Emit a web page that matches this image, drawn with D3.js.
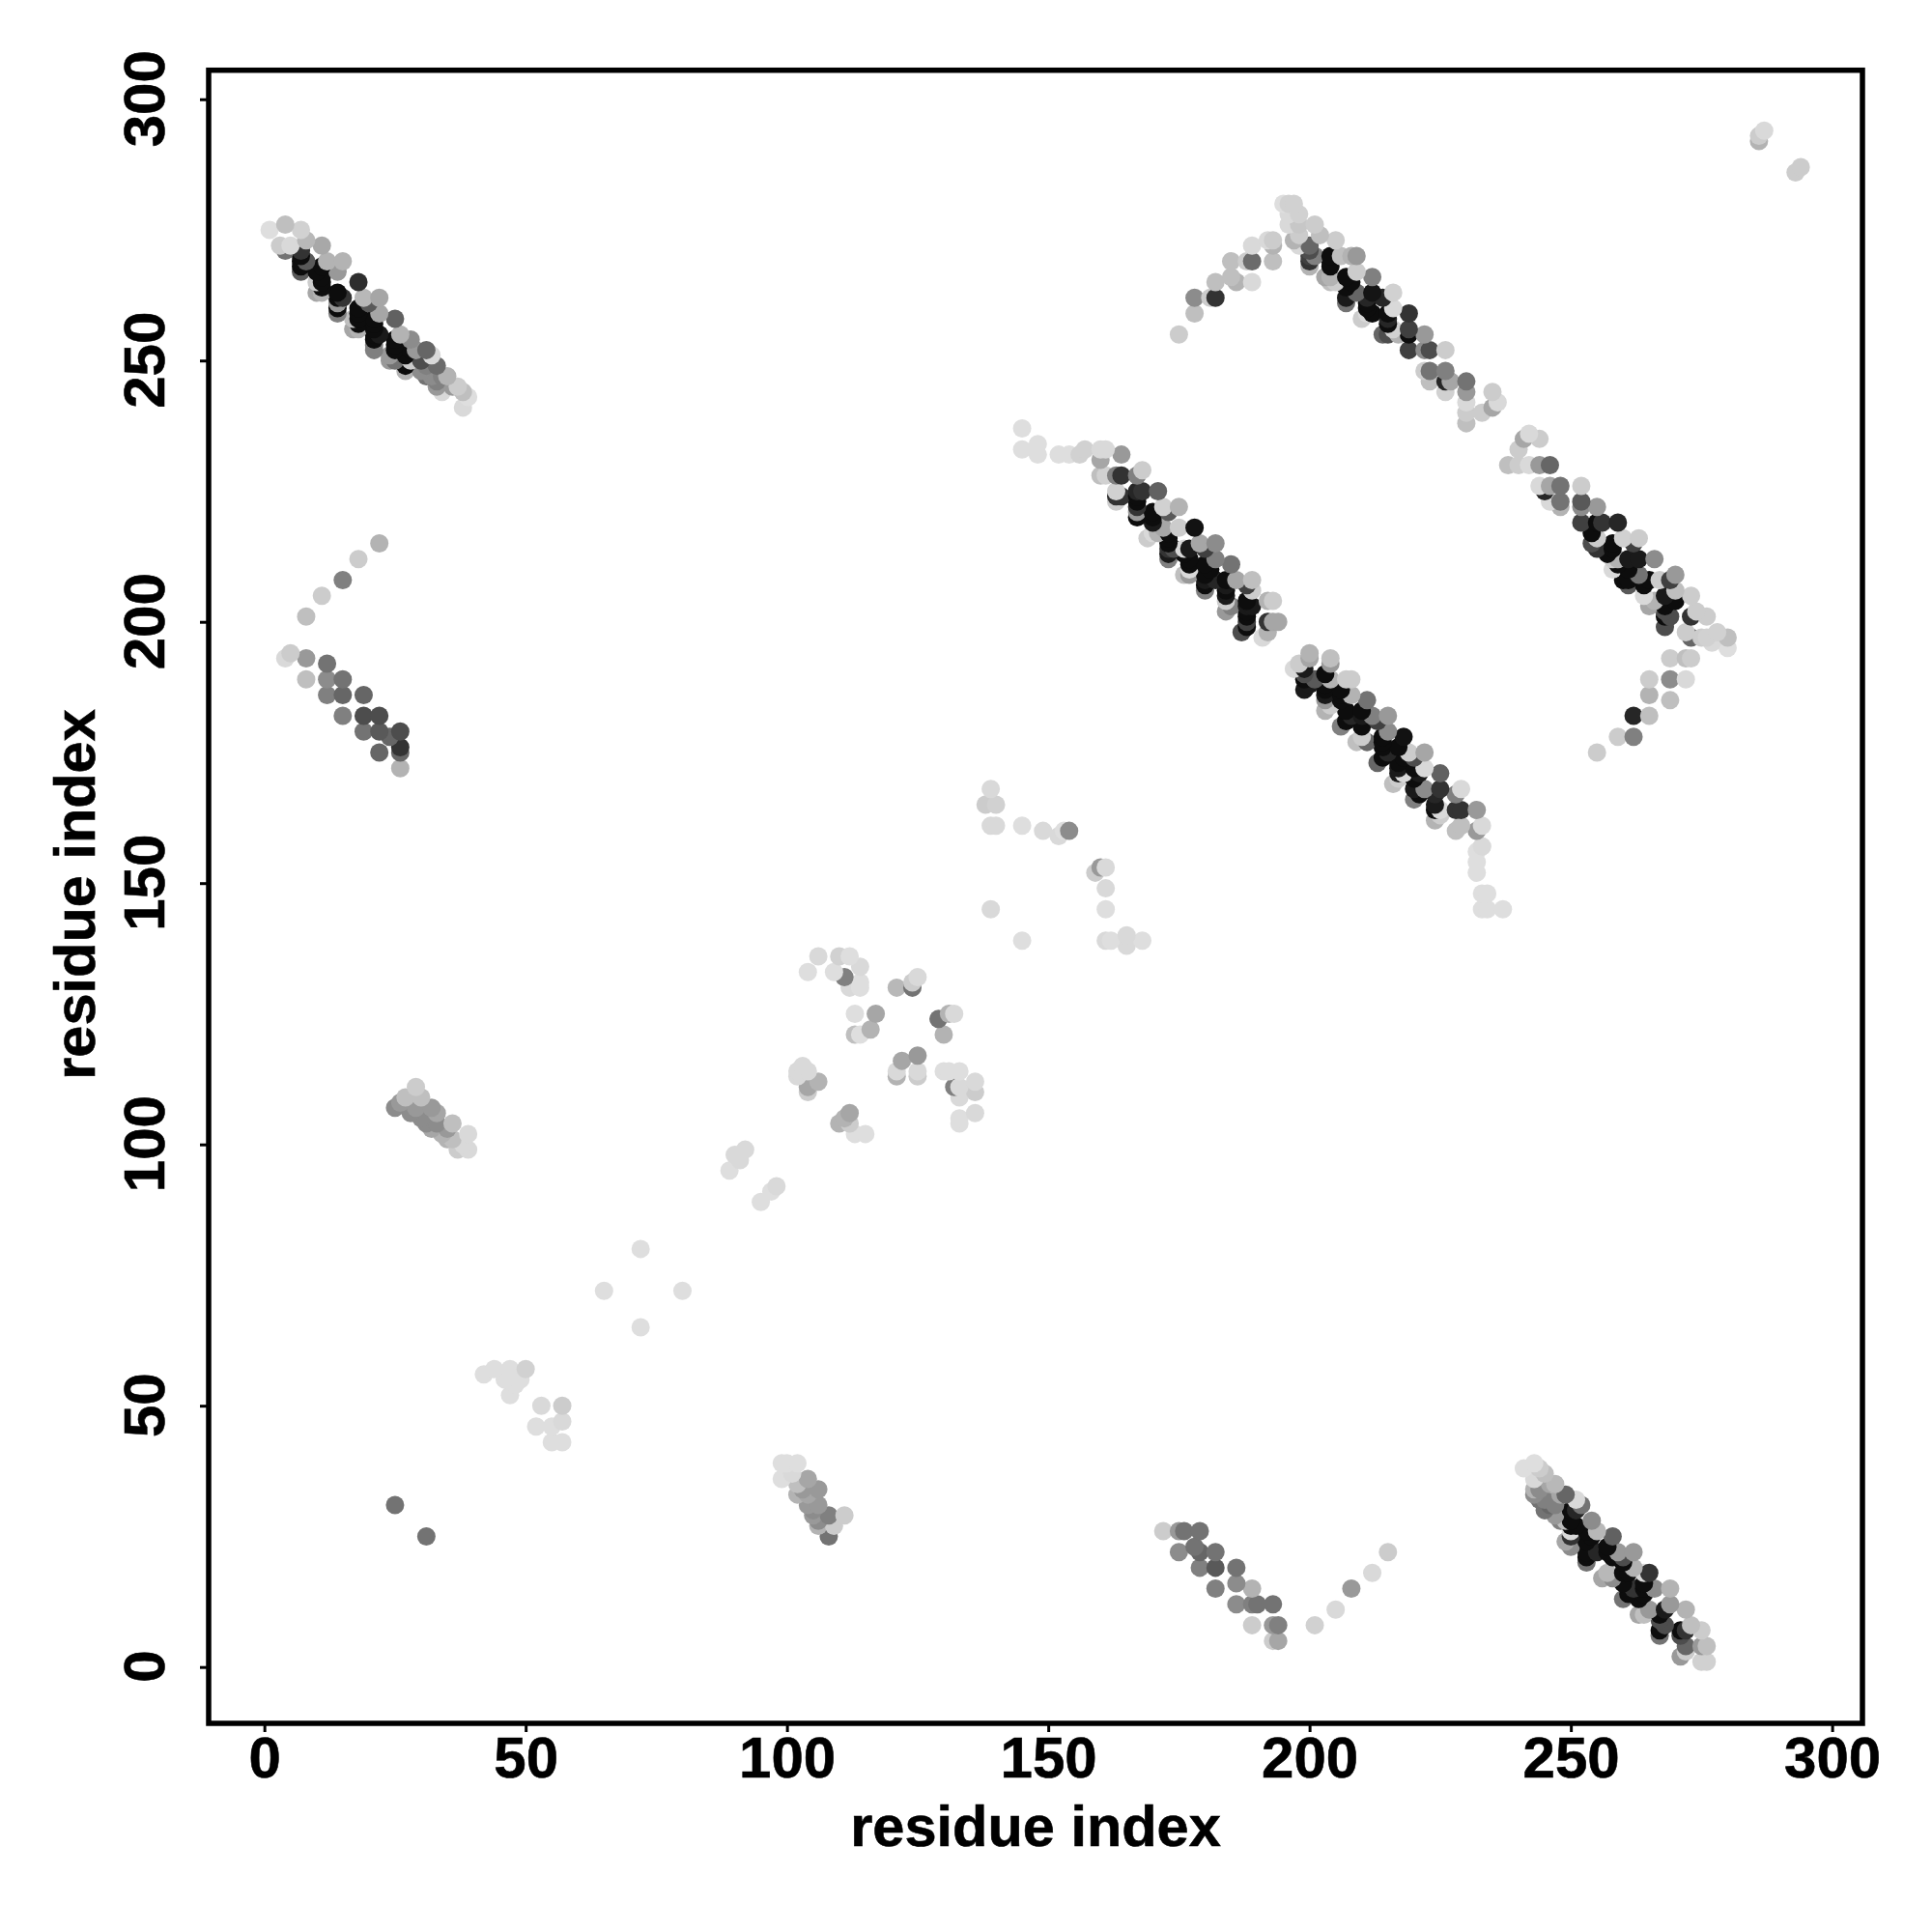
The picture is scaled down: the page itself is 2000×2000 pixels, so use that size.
<!DOCTYPE html>
<html><head><meta charset="utf-8">
<script src="https://cdn.jsdelivr.net/npm/d3@7"></script>
<style>html,body{margin:0;padding:0;background:#fff}svg{display:block}text{font-family:"Liberation Sans",Arial,sans-serif;font-weight:700;fill:#000;stroke:#000;stroke-width:.6px}</style>
</head><body><svg id="c" width="2000" height="2000"></svg>
<script>
// each contact: [residue i, residue j, gray level in percent]
const stripA=[[1,275,87],[4,276,75],[7,275,82],[3,272,80],[4,271,45],[5,272,85],[8,273,72],[11,272,66],[7,271,20],[8,269,35],[7,268,5],[7,267,35],[12,269,70],[15,269,70],[11,268,5],[14,267,60],[10,265,80],[11,264,5],[11,263,70],[18,265,18],[19,262,72],[14,263,5],[15,262,20],[14,260,5],[14,261,60],[22,262,65],[20,261,35],[18,260,5],[17,258,75],[18,257,5],[18,256,70],[22,259,65],[21,258,5],[22,255,10],[21,254,5],[21,253,50],[25,258,38],[26,255,70],[25,254,5],[24,251,60],[25,250,45],[28,254,55],[27,251,5],[28,250,80],[29,252,60],[31,252,40],[32,251,85],[30,250,30],[31,249,50],[33,249,42],[32,247,55],[34,247,50],[35,247,70],[33,245,60],[36,245,60],[37,245,80],[34,244,85],[38,244,75],[39,243,87],[38,241,85]];
const stripAUnder=[[7,270,5],[7,269,5],[10,267,5],[11,266,5],[11,265,5],[10,263,65],[14,262,5],[14,259,50],[18,259,5],[18,258,5],[17,256,65],[21,257,5],[21,256,5],[21,255,5],[21,252,50],[25,253,5],[25,252,5],[24,250,60],[28,252,5],[27,249,5],[27,248,70],[30,248,55],[31,247,45],[33,246,50]];
const stripB=[[4,193,85],[5,194,80],[8,193,60],[8,189,75],[12,192,45],[12,189,55],[12,186,50],[15,189,45],[15,186,40],[15,182,50],[19,186,40],[19,182,30],[19,179,45],[22,182,30],[22,179,35],[22,175,40],[24,178,40],[26,179,30],[26,176,20],[26,175,40],[26,172,70]];
const arcA=[[8,201,75],[11,205,80],[15,208,50],[18,212,80],[22,215,70],[25,31,45],[31,25,45]];
const stripC=[[25,107,55],[26,108,60],[27,109,75],[29,111,80],[30,109,75],[28,106,55],[32,107,60],[30,105,55],[33,106,65],[32,103,65],[36,104,75],[36,101,75],[39,102,85],[39,99,85],[37,99,80],[34,102,70],[35,103,60],[38,100,85],[33,104,55],[31,104,55],[35,101,70],[29,107,60]];
const middleA=[[42,56,87],[44,57,87],[47,57,87],[46,55,87],[48,54,87],[47,52,87],[50,57,82],[49,55,87],[53,50,85],[57,50,80],[52,46,87],[55,46,87],[57,47,85],[55,43,87],[57,43,87],[65,72,87],[72,80,87],[80,72,87],[72,65,87],[89,95,87],[91,97,85],[90,98,85],[92,99,85],[95,89,87],[97,91,87],[98,92,85]];
const stripD=[[99,39,87],[100,39,87],[102,39,87],[99,36,87],[104,36,65],[103,34,60],[106,34,60],[104,33,65],[106,31,60],[108,29,50],[108,25,45],[111,29,80],[109,27,80],[105,29,60],[102,35,75],[101,37,85],[106,27,70],[102,33,70],[104,31,60],[105,30,55],[106,28,55]];
const clusterE=[[106,136,85],[104,133,87],[109,133,87],[110,136,82],[112,136,87],[114,134,85],[114,131,87],[112,130,85],[114,130,87],[111,132,50],[121,130,72],[124,130,45],[125,132,85],[124,131,80],[113,125,87],[117,125,65],[116,122,70],[113,121,75],[114,121,87],[130,121,70],[129,124,45],[131,125,70],[132,125,85],[122,116,65],[125,117,60],[121,114,85],[121,113,70],[125,114,85],[125,113,80],[130,114,87],[131,114,87],[133,114,87],[132,111,50],[133,109,85],[136,112,85],[136,110,80],[133,111,85],[133,104,87],[136,106,85],[133,105,87],[102,114,85],[103,115,85],[104,114,85],[106,112,70],[104,111,65],[104,110,80],[102,113,85],[112,106,65],[110,104,70],[112,104,80],[113,102,87],[115,102,87],[111,105,70]];
const clusterF=[[139,168,85],[138,165,80],[140,165,82],[139,161,85],[140,161,85],[145,161,87],[139,145,85],[145,139,87],[149,160,85],[152,159,85],[154,160,55],[153,160,87],[160,153,60],[161,153,85],[159,152,80],[161,149,85],[161,145,87],[161,139,85],[162,139,87],[165,140,85],[165,138,85],[168,139,87],[232,152,87],[232,156,87],[233,157,87],[232,160,87],[233,148,87],[234,148,87],[233,145,87],[237,145,87],[234,145,87]];
const stripG=[[175,255,80],[178,259,75],[178,262,55],[182,262,20],[181,262,80],[182,265,75],[185,269,75],[185,266,75],[186,265,70],[189,265,85],[189,269,42],[188,269,80],[189,272,85],[193,269,75],[192,273,85],[193,272,70],[193,273,80],[195,280,87],[196,280,82],[197,280,82],[196,278,85],[198,278,82],[196,276,85],[198,276,78],[197,273,70],[198,272,85],[198,274,80],[201,276,80],[202,274,75],[200,272,40],[201,270,50],[200,269,20],[205,273,80],[204,270,5],[206,270,75],[209,270,60],[208,270,70],[204,266,70],[205,265,80],[208,265,5],[209,267,80],[212,266,50],[209,263,40],[207,262,10],[212,263,8],[216,263,82],[211,262,15],[214,262,15],[211,259,85],[212,259,5],[216,260,85],[215,259,5],[219,259,20],[219,256,25],[219,255,5],[219,252,25],[216,256,82],[215,255,30],[217,255,70],[222,255,60],[223,252,30],[226,252,80],[222,252,55],[222,248,80],[223,248,45],[226,248,50],[223,246,75],[226,246,15],[227,246,65],[226,244,82],[230,246,45],[230,244,60],[230,242,85],[230,238,75],[230,240,80],[233,240,80],[235,241,65],[235,244,80],[236,242,85]];
const stripGUnder=[[200,271,30],[200,270,25],[200,268,70],[204,269,5],[204,268,5],[203,266,65],[204,265,75],[207,266,5],[207,264,5],[207,261,45],[211,261,5],[211,260,5],[210,258,80],[215,258,15],[215,257,5],[214,255,40]];
const stripH=[[238,230,75],[240,230,80],[242,230,85],[240,233,80],[242,236,85],[241,235,65],[244,235,80],[244,230,60],[246,230,40],[244,226,85],[246,226,65],[248,226,45],[246,223,85],[248,222,70],[248,223,45],[252,226,80],[252,223,35],[252,222,55],[252,219,25],[255,222,60],[255,219,5],[256,219,20],[259,219,15],[255,216,80],[255,214,20],[258,215,5],[260,216,82],[263,216,80],[262,215,25],[258,212,80],[259,211,5],[259,212,70],[261,212,10],[263,212,10],[266,212,55],[263,209,45],[261,208,5],[265,208,5],[267,208,80],[270,209,60],[269,208,25],[270,206,75],[264,205,85],[266,204,70],[270,204,5],[268,205,10],[273,205,80],[269,201,30],[268,201,5],[273,201,20],[274,202,80],[276,201,80],[272,198,80],[273,197,40],[275,197,80],[276,197,82],[278,198,82],[280,197,75],[280,195,87],[277,196,85]];
const stripHUnder=[[245,225,15],[254,217,5],[254,215,30],[258,214,5],[257,213,5],[258,210,85],[261,210,5],[260,208,5],[261,207,35],[264,207,5],[265,203,65],[268,203,5],[268,202,30],[268,199,30]];
const arcB=[[255,175,80],[259,178,80],[262,182,15],[262,178,50],[265,182,75],[265,186,70],[269,185,75],[265,189,80],[269,189,55],[269,193,80],[272,189,85],[272,193,75],[273,193,80]];
const stripI=[[145,237,87],[145,233,87],[148,234,87],[148,232,87],[152,232,87],[154,232,87],[156,232,82],[157,233,82],[160,233,85],[161,233,85],[160,231,65],[160,228,75],[161,228,82],[164,232,60],[164,228,20],[163,228,50],[167,228,50],[168,229,80],[163,225,82],[164,224,20],[167,225,15],[168,225,20],[171,225,38],[167,221,60],[167,220,5],[170,221,5],[172,222,82],[175,222,70],[173,221,35],[170,217,85],[171,217,70],[172,218,65],[173,217,5],[175,218,80],[178,218,7],[174,214,30],[173,213,10],[176,214,85],[177,214,10],[179,215,65],[182,215,55],[180,214,25],[182,212,50],[177,210,85],[177,209,60],[181,210,5],[182,208,15],[180,207,5],[185,211,45],[184,207,10],[186,208,65],[189,208,75],[188,207,25],[189,206,80],[184,204,80],[185,203,50],[189,203,10],[188,202,5],[193,204,80],[188,200,25],[188,199,5],[192,204,70],[192,200,20],[194,200,65],[192,198,70],[191,197,85],[193,200,65]];
const stripIUnder=[[163,224,20],[163,223,80],[167,224,5],[167,223,5],[167,222,20],[170,220,5],[170,219,10],[169,216,80],[173,216,5],[173,215,5],[173,214,20],[173,212,50],[176,213,5],[177,212,5],[177,211,5],[176,209,75],[180,211,5],[180,209,5],[180,208,10],[180,206,50],[184,208,5],[184,206,5],[184,205,10],[184,202,60],[188,204,5],[188,203,10],[188,201,5],[187,198,30]];
const stripJ=[[197,191,85],[198,192,80],[200,194,70],[200,193,65],[199,190,30],[200,188,10],[201,189,35],[204,193,75],[204,192,60],[204,189,70],[203,188,5],[203,185,60],[204,184,80],[208,189,80],[207,189,80],[208,186,70],[206,185,5],[211,185,45],[208,182,15],[207,181,5],[210,182,10],[212,182,50],[215,182,60],[213,181,25],[215,179,55],[210,178,80],[211,177,40],[218,178,7],[214,177,5],[215,175,15],[214,174,5],[222,175,65],[219,175,80],[220,174,30],[218,174,5],[217,170,80],[218,171,85],[217,171,10],[222,172,85],[221,171,10],[225,171,38],[222,168,55],[221,167,5],[225,168,20],[224,167,15],[229,168,85],[228,167,50],[224,164,5],[225,164,85],[225,163,80],[228,164,20],[229,164,20],[232,164,60],[228,160,75],[229,161,75],[233,161,85],[232,160,60],[233,157,85],[232,154,87]];
const stripJUnder=[[199,191,10],[199,189,5],[199,187,10],[203,190,5],[203,187,5],[203,186,10],[203,183,70],[206,187,5],[206,186,5],[207,183,5],[206,180,50],[210,183,5],[210,180,5],[209,177,75],[214,178,5],[214,176,5],[213,173,40],[217,176,5],[217,173,5],[217,172,10],[216,169,75],[220,172,5],[220,170,5],[220,168,10],[220,166,50],[224,165,10],[224,162,70]];
const stripK=[[241,38,87],[243,39,87],[244,38,80],[245,37,75],[243,36,85],[247,35,72],[246,35,65],[243,34,70],[244,34,55],[245,32,50],[247,31,50],[249,33,40],[248,33,65],[251,32,85],[252,31,45],[251,30,15],[251,27,5],[249,28,75],[250,26,85],[250,25,20],[250,23,55],[254,28,55],[255,26,72],[254,25,5],[255,22,15],[253,21,5],[259,22,60],[258,21,5],[262,22,60],[260,21,30],[258,25,38],[257,18,72],[258,17,55],[262,19,70],[261,18,5],[265,18,20],[264,18,85],[266,15,55],[269,15,70],[262,15,20],[261,14,5],[264,14,5],[269,12,60],[265,11,60],[264,10,75],[268,11,10],[272,11,70],[268,8,30],[267,7,5],[273,8,75],[272,7,20],[275,7,80],[272,3,80],[272,4,40],[275,4,60],[276,4,75],[275,1,82],[276,1,82]];
const stripKUnder=[[243,33,55],[244,32,45],[245,30,45],[246,31,40],[247,29,60],[248,28,50],[250,30,5],[250,28,5],[250,27,5],[249,24,65],[253,26,5],[253,24,5],[253,22,5],[253,20,45],[257,23,5],[257,22,5],[256,17,65],[260,20,5],[260,18,5],[260,16,5],[260,13,45],[264,16,5],[264,15,5],[263,13,5],[263,10,65],[267,10,5],[267,9,30],[267,6,45],[271,7,5],[271,6,30],[271,2,60]];
const stripL=[[172,26,80],[175,26,60],[176,26,45],[179,26,45],[175,22,55],[178,23,45],[179,22,40],[182,22,45],[179,19,50],[182,19,35],[186,19,45],[182,15,50],[186,16,55],[186,12,55],[189,15,70],[189,12,50],[190,12,45],[193,12,45],[189,8,80],[193,8,60],[194,8,50],[193,5,80],[194,5,65]];
const arcC=[[201,8,82],[205,11,85],[208,15,60],[212,18,85],[215,22,80],[286,292,70],[287,294,85],[286,293,80],[293,286,80],[294,287,80]];
const xTicks=[0,50,100,150,200,250,300];
const yTicks=[0,50,100,150,200,250,300];
const xTitle="residue index", yTitle="residue index";

const contacts=[stripA,stripAUnder,stripB,arcA,stripC,middleA,stripD,clusterE,clusterF,stripG,stripGUnder,stripH,stripHUnder,arcB,stripI,stripIUnder,stripJ,stripJUnder,stripK,stripKUnder,stripL,arcC].flat()
  .sort((a,b)=>d3.ascending(a[1],b[1])||d3.ascending(a[0],b[0]));

const L=216,R=1928,T=72.7,B=1784;
const x=d3.scaleLinear().domain([-10.66,305.8]).range([L,R]);
const y=d3.scaleLinear().domain([-10.78,305.55]).range([B,T]);
const gray=d3.scaleLinear().domain([0,100]).range(["#000","#fff"]);
const svg=d3.select("#c");
svg.append("g").selectAll("circle").data(contacts).join("circle")
  .attr("cx",d=>x(d[0])).attr("cy",d=>y(d[1])).attr("r",9.5).attr("fill",d=>gray(d[2]));
svg.append("rect").attr("x",L).attr("y",T).attr("width",R-L).attr("height",B-T)
  .attr("fill","none").attr("stroke","#000").attr("stroke-width",5.5);

const gx=svg.append("g").attr("transform",`translate(0,${B})`)
  .call(d3.axisBottom(x).tickValues(xTicks).tickSize(9).tickPadding(10).tickFormat(d3.format("d")));
const gy=svg.append("g").attr("transform",`translate(${L},0)`)
  .call(d3.axisLeft(y).tickValues(yTicks).tickSize(9).tickFormat(d3.format("d")));
gx.select(".domain").remove(); gy.select(".domain").remove();
svg.selectAll(".tick line").attr("stroke","#000").attr("stroke-width",3);
gx.selectAll(".tick text").attr("font-size",60).attr("dy",null).attr("y",56).attr("text-anchor","middle");
gy.selectAll(".tick text").attr("font-size",60).attr("x",null).attr("dy",null).attr("text-anchor","middle")
  .attr("transform",`translate(-46,-1) rotate(-90)`);
svg.append("text").attr("x",(L+R)/2).attr("y",1911).attr("text-anchor","middle").attr("font-size",59.5).text(xTitle);
svg.append("text").attr("transform",`translate(98,926) rotate(-90)`).attr("text-anchor","middle").attr("font-size",59.5).text(yTitle);
</script></body></html>
